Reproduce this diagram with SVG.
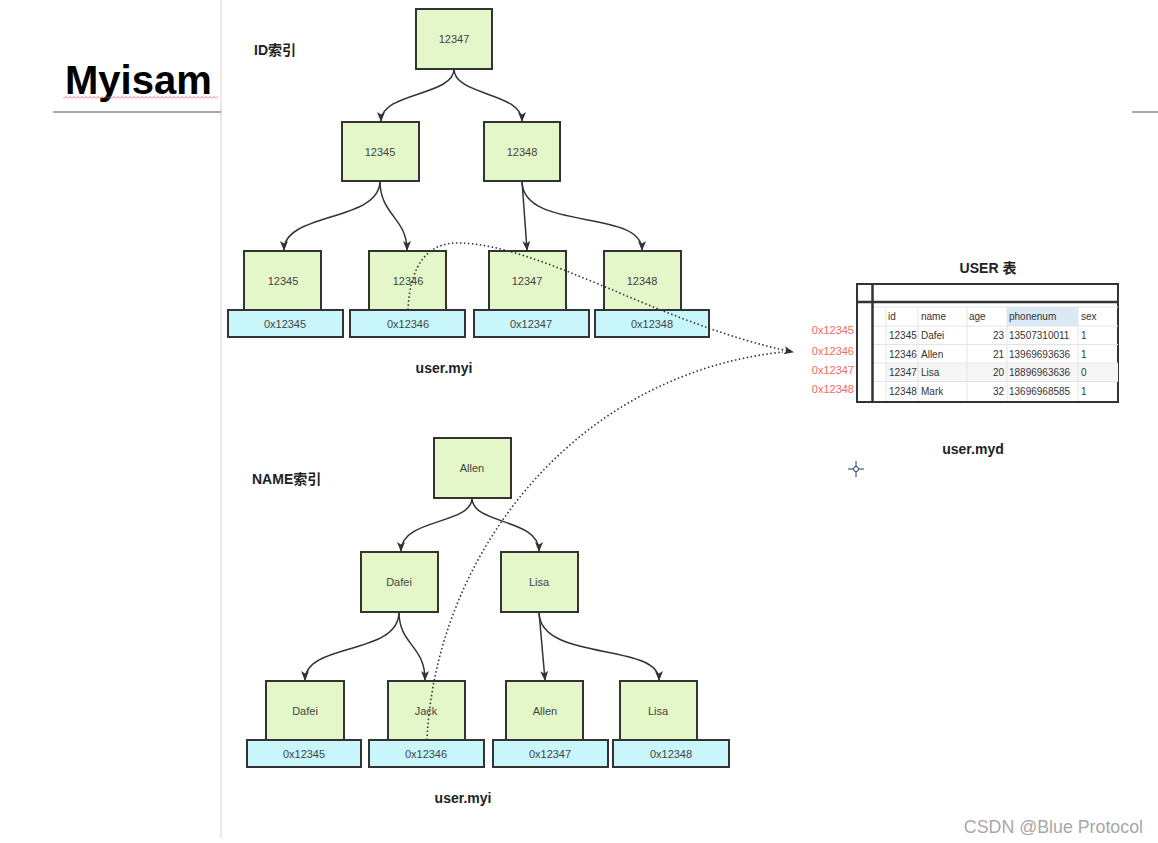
<svg xmlns="http://www.w3.org/2000/svg" width="1158" height="843" viewBox="0 0 1158 843">
<style>
text{font-family:"Liberation Sans","Noto Sans CJK SC",sans-serif;}
.g{fill:#e3f7c9;stroke:#333;stroke-width:2;}
.b{fill:#c9f6fb;stroke:#333;stroke-width:2;}
.nl{font-size:11px;fill:#444;text-anchor:middle;}
.title{font-size:14px;font-weight:bold;fill:#222;}
.lbl{font-size:14px;font-weight:bold;fill:#222;text-anchor:middle;}
.edge{fill:none;stroke:#333;stroke-width:1.5;}
.dot{fill:none;stroke:#333;stroke-width:1.6;stroke-dasharray:1.5 2.5;}
.tt{font-size:10px;fill:#333;}
.addr{font-size:11px;fill:#f26a60;text-anchor:end;}
.grid{stroke:#e4e4e4;stroke-width:1;}
</style>
<defs>
<marker id="arr" markerWidth="10" markerHeight="8" refX="9" refY="4" orient="auto" markerUnits="userSpaceOnUse">
<path d="M0,0 L10,4 L0,8 L2.5,4 Z" fill="#333"/>
</marker>
<pattern id="wave" width="4" height="3" patternUnits="userSpaceOnUse">
<path d="M0,2.5 L2,0.5 L4,2.5" stroke="#e05a5a" fill="none" stroke-width="0.8"/>
</pattern>
</defs>
<rect width="1158" height="843" fill="#fff"/>
<g id="page">
<line x1="221" y1="0" x2="221" y2="838" stroke="#e2e2e2" stroke-width="1.5"/>
<line x1="53" y1="112" x2="221" y2="112" stroke="#555" stroke-width="1"/>
<line x1="1132" y1="112" x2="1158" y2="112" stroke="#555" stroke-width="1"/>
<text x="65" y="94" style="font-size:40px;font-weight:bold;fill:#000;">Myisam</text>
<rect x="63" y="96" width="155" height="3" fill="url(#wave)"/>
<text x="254" y="55" class="title">ID索引</text>
<text x="252" y="484" class="title">NAME索引</text>
<text x="444" y="373" class="lbl">user.myi</text>
<text x="463" y="803" class="lbl">user.myi</text>
<text x="973" y="454" class="lbl">user.myd</text>
<text x="988" y="273" class="lbl">USER 表</text>
<g id="crosshair" stroke="#1a3a6a" stroke-width="1" fill="none">
<circle cx="856" cy="469" r="2.5"/>
<line x1="848" y1="469" x2="853.5" y2="469"/><line x1="858.5" y1="469" x2="864" y2="469"/>
<line x1="856" y1="461" x2="856" y2="466.5"/><line x1="856" y1="471.5" x2="856" y2="477"/>
</g>
<text x="1143" y="833" style="font-size:17.8px;fill:#a8a8a8;text-anchor:end;">CSDN @Blue Protocol</text>
</g>

<g id="id-root"><rect class="g" x="416" y="9" width="76" height="60"/><text class="nl" x="454" y="43">12347</text></g>
<g id="id-12345"><rect class="g" x="342" y="122" width="77" height="59"/><text class="nl" x="380" y="156">12345</text></g>
<g id="id-12348"><rect class="g" x="484" y="122" width="76" height="59"/><text class="nl" x="522" y="156">12348</text></g>

<g id="id-leaf1"><rect class="g" x="244" y="251" width="77" height="59"/><text class="nl" x="283" y="285">12345</text><rect class="b" x="228" y="310" width="115" height="27"/><text class="nl" x="285" y="328">0x12345</text></g>
<g id="id-leaf2"><rect class="g" x="369" y="251" width="77" height="59"/><text class="nl" x="408" y="285">12346</text><rect class="b" x="350" y="310" width="115" height="27"/><text class="nl" x="408" y="328">0x12346</text></g>
<g id="id-leaf3"><rect class="g" x="489" y="251" width="77" height="59"/><text class="nl" x="527" y="285">12347</text><rect class="b" x="474" y="310" width="115" height="27"/><text class="nl" x="531" y="328">0x12347</text></g>
<g id="id-leaf4"><rect class="g" x="604" y="251" width="77" height="59"/><text class="nl" x="642" y="285">12348</text><rect class="b" x="595" y="310" width="114" height="27"/><text class="nl" x="652" y="328">0x12348</text></g>

<g id="name-root"><rect class="g" x="434" y="438" width="77" height="60"/><text class="nl" x="472" y="472">Allen</text></g>
<g id="name-dafei"><rect class="g" x="361" y="552" width="77" height="60"/><text class="nl" x="399" y="586">Dafei</text></g>
<g id="name-lisa"><rect class="g" x="501" y="552" width="77" height="60"/><text class="nl" x="539" y="586">Lisa</text></g>

<g id="name-leaf1"><rect class="g" x="266" y="681" width="78" height="59"/><text class="nl" x="305" y="715">Dafei</text><rect class="b" x="247" y="740" width="114" height="27"/><text class="nl" x="304" y="758">0x12345</text></g>
<g id="name-leaf2"><rect class="g" x="388" y="681" width="77" height="59"/><text class="nl" x="426" y="715">Jack</text><rect class="b" x="369" y="740" width="115" height="27"/><text class="nl" x="426" y="758">0x12346</text></g>
<g id="name-leaf3"><rect class="g" x="506" y="681" width="77" height="59"/><text class="nl" x="545" y="715">Allen</text><rect class="b" x="493" y="740" width="115" height="27"/><text class="nl" x="550" y="758">0x12347</text></g>
<g id="name-leaf4"><rect class="g" x="620" y="681" width="77" height="59"/><text class="nl" x="658" y="715">Lisa</text><rect class="b" x="613" y="740" width="116" height="27"/><text class="nl" x="671" y="758">0x12348</text></g>

<g id="user-table">
<rect x="857" y="284" width="261" height="118" fill="#fff" stroke="#333" stroke-width="2"/>
<rect x="1007" y="307" width="71" height="19" fill="#dbe9f6"/>
<rect x="886" y="363" width="232" height="18.5" fill="#f6f6f6"/>
<g class="grid">
<line x1="873" y1="307" x2="1118" y2="307"/>
<line x1="873" y1="326" x2="1118" y2="326"/>
<line x1="873" y1="344.5" x2="1118" y2="344.5"/>
<line x1="873" y1="363" x2="1118" y2="363"/>
<line x1="873" y1="381.5" x2="1118" y2="381.5"/>
<line x1="886" y1="307" x2="886" y2="401"/>
<line x1="918" y1="307" x2="918" y2="401"/>
<line x1="967" y1="307" x2="967" y2="401"/>
<line x1="1007" y1="307" x2="1007" y2="401"/>
<line x1="1078" y1="307" x2="1078" y2="401"/>
</g>
<line x1="872.5" y1="284" x2="872.5" y2="402" stroke="#333" stroke-width="2.5"/>
<line x1="857" y1="302" x2="1118" y2="302" stroke="#333" stroke-width="2.5"/>
<text class="tt" x="888" y="320">id</text><text class="tt" x="921" y="320">name</text><text class="tt" x="969" y="320">age</text><text class="tt" x="1009" y="320">phonenum</text><text class="tt" x="1081" y="320">sex</text>
<text class="tt" x="889" y="339">12345</text><text class="tt" x="921" y="339">Dafei</text><text class="tt" x="1004" y="339" text-anchor="end">23</text><text class="tt" x="1009" y="339">13507310011</text><text class="tt" x="1081" y="339">1</text>
<text class="tt" x="889" y="357.5">12346</text><text class="tt" x="921" y="357.5">Allen</text><text class="tt" x="1004" y="357.5" text-anchor="end">21</text><text class="tt" x="1009" y="357.5">13969693636</text><text class="tt" x="1081" y="357.5">1</text>
<text class="tt" x="889" y="376">12347</text><text class="tt" x="921" y="376">Lisa</text><text class="tt" x="1004" y="376" text-anchor="end">20</text><text class="tt" x="1009" y="376">18896963636</text><text class="tt" x="1081" y="376">0</text>
<text class="tt" x="889" y="394.5">12348</text><text class="tt" x="921" y="394.5">Mark</text><text class="tt" x="1004" y="394.5" text-anchor="end">32</text><text class="tt" x="1009" y="394.5">13696968585</text><text class="tt" x="1081" y="394.5">1</text>
</g>
<g id="addresses">
<text class="addr" x="854" y="334">0x12345</text>
<text class="addr" x="854" y="355">0x12346</text>
<text class="addr" x="854" y="374">0x12347</text>
<text class="addr" x="854" y="393">0x12348</text>
</g>

<g id="connectors">
<path class="edge" marker-end="url(#arr)" d="M454,69 C454,96 381,92 381,121"/>
<path class="edge" marker-end="url(#arr)" d="M454,69 C454,96 522,92 522,121"/>
<path class="edge" marker-end="url(#arr)" d="M380,181 C380,222 284,212 284,250"/>
<path class="edge" marker-end="url(#arr)" d="M380,181 C380,215 407,218 407,250"/>
<path class="edge" marker-end="url(#arr)" d="M522,181 L527,250"/>
<path class="edge" marker-end="url(#arr)" d="M522,181 C522,232 642,208 642,250"/>
<path class="edge" marker-end="url(#arr)" d="M472,498 C472,525 401,518 401,551"/>
<path class="edge" marker-end="url(#arr)" d="M472,498 C472,525 539,518 539,551"/>
<path class="edge" marker-end="url(#arr)" d="M399,612 C399,656 305,642 305,680"/>
<path class="edge" marker-end="url(#arr)" d="M399,612 C399,645 425,645 425,680"/>
<path class="edge" marker-end="url(#arr)" d="M539,612 L545,680"/>
<path class="edge" marker-end="url(#arr)" d="M539,612 C539,662 659,642 659,680"/>
<path class="dot" marker-end="url(#arr)" d="M408,310 C410,262 430,243 457,243 C540,243 660,325 793,352"/>
<path class="dot" d="M427,740 C435,560 570,375 783,352"/>
</g>
</svg>
